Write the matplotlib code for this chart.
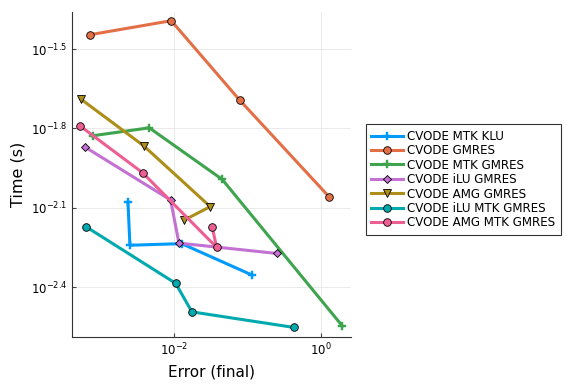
import matplotlib
matplotlib.use("Agg")
import matplotlib.pyplot as plt
import numpy as np

names = ["CVODE MTK KLU", "CVODE GMRES", "CVODE MTK GMRES", "CVODE iLU GMRES",
         "CVODE AMG GMRES", "CVODE iLU MTK GMRES", "CVODE AMG MTK GMRES"]
colors = ["#009AFA", "#E36F47", "#3EA44E", "#C371D2", "#AC8E18", "#00A9AD", "#ED5E93"]
markers = ["P", "o", "P", "D", "v", "o", "o"]

# log10 values
log_err = [
    [-2.626, -2.599, -1.895, -0.935],
    [-3.143, -2.037, -1.106, 0.113],
    [-3.106, -2.336, -1.343, 0.295],
    [-3.215, -2.045, -1.932, -0.603],
    [-3.269, -2.412, -1.506, -1.860],
    [-3.197, -1.977, -1.755, -0.363],
    [-3.283, -2.426, -1.419, -1.479],
]
log_time = [
    [-2.079, -2.242, -2.236, -2.355],
    [-1.446, -1.393, -1.693, -2.059],
    [-1.828, -1.798, -1.993, -2.548],
    [-1.870, -2.071, -2.234, -2.273],
    [-1.689, -1.866, -2.096, -2.147],
    [-2.172, -2.386, -2.494, -2.553],
    [-1.790, -1.968, -2.250, -2.173],
]

xticks = [-2, 0]
yticks = [-1.5, -1.8, -2.1, -2.4]

fig = plt.figure(figsize=(5.76, 3.84), dpi=100)
ax = fig.add_axes([0.125, 0.1224, 0.484, 0.8464])

for name, c, m, lx, ly in zip(names, colors, markers, log_err, log_time):
    x = 10 ** np.array(lx)
    y = 10 ** np.array(ly)
    if m == "P":
        ax.plot(x, y, color=c, lw=2.2, marker=m, ms=6, mec=c, mew=0.3, label=name)
    else:
        ax.plot(x, y, color=c, lw=2.2, marker=m, ms=5.5 if m != "D" else 4.5,
                mec="black", mew=0.6, label=name)

ax.set_xscale("log")
ax.set_yscale("log")
ax.set_xlim(10 ** -3.388, 10 ** 0.408)
ax.set_ylim(10 ** -2.589, 10 ** -1.360)
ax.set_xticks([10.0 ** t for t in xticks])
ax.set_xticklabels([r"$10^{%d}$" % t for t in xticks])
ax.set_yticks([10.0 ** t for t in yticks])
ax.set_yticklabels([r"$10^{%.1f}$" % t for t in yticks])
ax.minorticks_off()
ax.tick_params(axis="both", direction="in", length=3, labelsize=8.5, color="#444444")
ax.grid(True, color="#e6e6e6", lw=0.6)
ax.set_axisbelow(True)
for s in ["top", "right"]:
    ax.spines[s].set_visible(False)
for s in ["left", "bottom"]:
    ax.spines[s].set_color("#333333")
ax.set_xlabel("Error (final)", fontsize=11)
ax.set_ylabel("Time (s)", fontsize=11.5)

leg = ax.legend(loc="upper left", bbox_to_anchor=(1.055, 0.654), fontsize=8.6,
                frameon=True, fancybox=False, edgecolor="black", handlelength=2.6,
                labelspacing=0.12, borderpad=0.45, handletextpad=0.4,
                borderaxespad=0)
leg.get_frame().set_linewidth(0.8)

fig.savefig("out.png", dpi=100)
